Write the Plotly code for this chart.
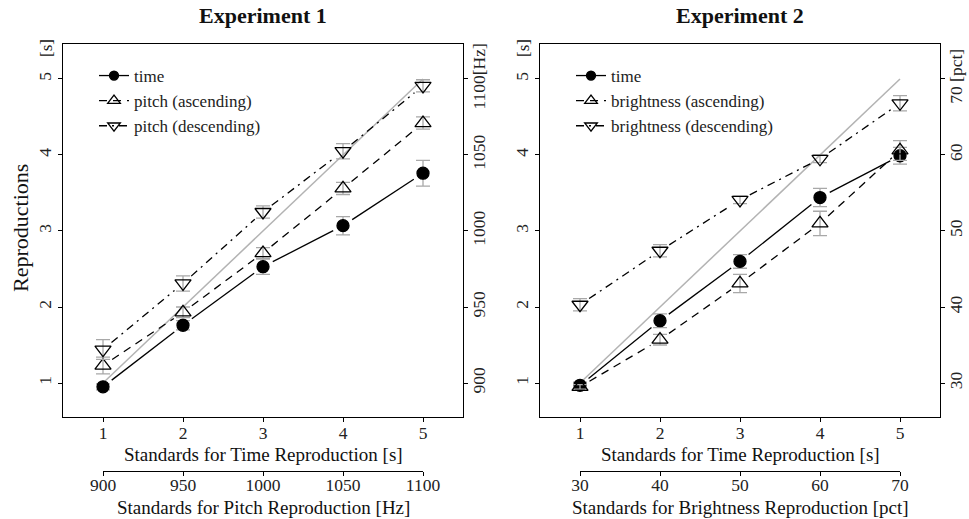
import math
import plotly.graph_objects as go

# ---------------- data ----------------
standards = [1, 2, 3, 4, 5]
identity = [1, 5]

# Experiment 1
e1_time = [0.95, 1.76, 2.53, 3.07, 3.76]
e1_time_err = [0.04, 0.06, 0.10, 0.12, 0.17]
e1_asc = [1.23, 1.93, 2.71, 3.56, 4.42]
e1_asc_err = [0.11, 0.07, 0.07, 0.08, 0.08]
e1_desc = [1.44, 2.31, 3.25, 4.05, 4.91]
e1_desc_err = [0.13, 0.10, 0.08, 0.10, 0.08]

# Experiment 2
e2_time = [0.97, 1.82, 2.60, 3.44, 3.99]
e2_time_err = [0.04, 0.09, 0.09, 0.12, 0.11]
e2_asc = [0.95, 1.57, 2.31, 3.10, 4.06]
e2_asc_err = [0.03, 0.07, 0.12, 0.16, 0.13]
e2_desc = [2.03, 2.74, 3.41, 3.95, 4.68]
e2_desc_err = [0.08, 0.08, 0.05, 0.05, 0.10]

pitch_ticks = [900, 950, 1000, 1050, 1100]
pitch_labels = ["900", "950", "1000", "1050", "1100[Hz]"]
pitch_bottom_labels = ["900", "950", "1000", "1050", "1100"]
bright_ticks = [30, 40, 50, 60, 70]
bright_labels = ["30", "40", "50", "60", "70 [pct]"]
bright_bottom_labels = ["30", "40", "50", "60", "70"]

# ---------------- layout geometry ----------------
W, H = 969, 519
FONT = "Liberation Serif"
XR = [0.5, 5.5]
YR = [0.553, 5.46]
P1 = (63, 463)
P2 = (540, 940)
TOP, BOT = 44, 417
AX2 = 471  # y pixel of the secondary bottom axes
SX = (P1[1] - P1[0]) / (XR[1] - XR[0])
SY = (BOT - TOP) / (YR[1] - YR[0])


def px(v):
    return v / W


def py(v):
    return 1 - v / H


def gapped(xs, ys, gap=11):
    X, Y = [], []
    for i in range(len(xs) - 1):
        dx = xs[i + 1] - xs[i]
        dy = ys[i + 1] - ys[i]
        L = math.hypot(dx * SX, dy * SY)
        f = gap / L
        X += [xs[i] + f * dx, xs[i + 1] - f * dx, None]
        Y += [ys[i] + f * dy, ys[i + 1] - f * dy, None]
    return X, Y


fig = go.Figure()

DASHES = {"time": "solid", "asc": "8px,6px", "desc": "8px,5px,2px,5px"}
SYMS = {"time": "circle", "asc": "triangle-up-open", "desc": "triangle-down-open"}
SIZES = {"time": 12, "asc": 14, "desc": 14}


def add_panel(xa, ya, series, names, legend):
    # identity line
    fig.add_trace(go.Scatter(x=identity, y=identity, mode="lines",
                             line=dict(color="#b3b3b3", width=1.5),
                             xaxis=xa, yaxis=ya, showlegend=False, hoverinfo="skip"))
    for key, (vals, errs) in series.items():
        gx, gy = gapped(standards, vals)
        fig.add_trace(go.Scatter(x=gx, y=gy, mode="lines",
                                 line=dict(color="black", width=1.3, dash=DASHES[key]),
                                 xaxis=xa, yaxis=ya, showlegend=False, hoverinfo="skip"))
        fig.add_trace(go.Scatter(x=standards, y=vals, mode="markers",
                                 marker=dict(symbol=SYMS[key], size=SIZES[key], color="black",
                                             line=dict(color="black", width=1.3)),
                                 error_y=dict(type="data", array=errs, color="#a8a8a8",
                                              thickness=1.3, width=7),
                                 xaxis=xa, yaxis=ya, showlegend=False))
    for key in ["time", "asc", "desc"]:
        fig.add_trace(go.Scatter(x=[None], y=[None], mode="lines+markers", name=names[key],
                                 line=dict(color="black", width=1.3, dash=DASHES[key]),
                                 marker=dict(symbol=SYMS[key], size=SIZES[key] - 3, color="black",
                                             line=dict(color="black", width=1.3)),
                                 xaxis=xa, yaxis=ya, legend=legend))


add_panel("x", "y",
          {"time": (e1_time, e1_time_err), "asc": (e1_asc, e1_asc_err), "desc": (e1_desc, e1_desc_err)},
          {"time": "time", "asc": "pitch (ascending)", "desc": "pitch (descending)"}, "legend")
add_panel("x2", "y3",
          {"time": (e2_time, e2_time_err), "asc": (e2_asc, e2_asc_err), "desc": (e2_desc, e2_desc_err)},
          {"time": "time", "asc": "brightness (ascending)", "desc": "brightness (descending)"}, "legend2")

# invisible anchors so the secondary axes are drawn
invis = dict(mode="markers", marker=dict(opacity=0, size=1), showlegend=False, hoverinfo="skip")
fig.add_trace(go.Scatter(x=standards, y=pitch_ticks, xaxis="x", yaxis="y2", **invis))
fig.add_trace(go.Scatter(x=standards, y=bright_ticks, xaxis="x2", yaxis="y4", **invis))
fig.add_trace(go.Scatter(x=pitch_ticks, y=[0, 0, 0, 0, 0], xaxis="x3", yaxis="y5", **invis))
fig.add_trace(go.Scatter(x=bright_ticks, y=[0, 0, 0, 0, 0], xaxis="x4", yaxis="y6", **invis))

tickfont = dict(family=FONT, size=17.5, color="#222")
common = dict(showgrid=False, zeroline=False, showline=True, linecolor="black", linewidth=1.3,
              ticks="outside", ticklen=4, tickwidth=1.2, tickcolor="black", tickfont=tickfont)


def map_range(r, base, step):
    return [base + step * (r[0] - 1), base + step * (r[1] - 1)]


legend_common = dict(xanchor="left", yanchor="top", bgcolor="rgba(0,0,0,0)",
                     font=dict(family=FONT, size=17, color="#222"), tracegroupgap=0,
                     itemwidth=30)

hidden_y = dict(visible=False, range=[0, 1], domain=[py(AX2), py(AX2 - 3)])

layout = dict(
    width=W, height=H, margin=dict(l=0, r=0, t=0, b=0, autoexpand=False),
    paper_bgcolor="white", plot_bgcolor="rgba(0,0,0,0)",
    font=dict(family=FONT, size=17, color="#222"),
    xaxis=dict(domain=[px(P1[0]), px(P1[1])], range=XR, anchor="y", mirror=True,
               tickvals=standards, ticklabelstandoff=-4, **common),
    yaxis=dict(domain=[py(BOT), py(TOP)], range=YR, anchor="x", mirror=True,
               tickvals=standards, tickangle=-90, **common),
    yaxis2=dict(range=map_range(YR, 900, 50), overlaying="y", side="right", anchor="x",
                tickvals=pitch_ticks, ticktext=pitch_labels, tickangle=-90,
                ticklabelstandoff=-4, **common),
    xaxis2=dict(domain=[px(P2[0]), px(P2[1])], range=XR, anchor="y3", mirror=True,
                tickvals=standards, ticklabelstandoff=-4, **common),
    yaxis3=dict(domain=[py(BOT), py(TOP)], range=YR, anchor="x2", mirror=True,
                tickvals=standards, tickangle=-90, **common),
    yaxis4=dict(range=map_range(YR, 30, 10), overlaying="y3", side="right", anchor="x2",
                tickvals=bright_ticks, ticktext=bright_labels, tickangle=-90,
                ticklabelstandoff=-4, **common),
    xaxis3=dict(domain=[px(P1[0] + SX * (1 - XR[0])), px(P1[0] + SX * (5 - XR[0]))],
                range=[900, 1100], anchor="y5", side="bottom",
                tickvals=pitch_ticks, ticktext=pitch_bottom_labels, ticklabelstandoff=-6,
                **common),
    xaxis4=dict(domain=[px(P2[0] + SX * (1 - XR[0])), px(P2[0] + SX * (5 - XR[0]))],
                range=[30, 70], anchor="y6", side="bottom",
                tickvals=bright_ticks, ticktext=bright_bottom_labels, ticklabelstandoff=-6,
                **common),
    yaxis5=dict(anchor="x3", **hidden_y),
    yaxis6=dict(anchor="x4", **hidden_y),
    legend=dict(x=px(94), y=py(58), **legend_common),
    legend2=dict(x=px(571), y=py(58), **legend_common),
)
fig.update_layout(**layout)

ann = []


def text(x, y, s, size=17, angle=0, bold=False):
    ann.append(dict(x=px(x), y=py(y), xref="paper", yref="paper", text=("<b>%s</b>" % s) if bold else s,
                    showarrow=False, textangle=angle, xanchor="center", yanchor="middle",
                    font=dict(family=FONT, size=size, color="#111")))


text(263, 15, "Experiment 1", size=22, bold=True)
text(740, 15, "Experiment 2", size=22, bold=True)
text(20, 228, "Reproductions", size=22, angle=-90)
text(47, 48, "[s]", size=17, angle=-90)
text(524, 48, "[s]", size=17, angle=-90)
text(263, 454, "Standards for Time Reproduction [s]", size=19)
text(740, 454, "Standards for Time Reproduction [s]", size=19)
text(263, 507, "Standards for Pitch Reproduction [Hz]", size=19)
text(740, 507, "Standards for Brightness Reproduction [pct]", size=19)
fig.update_layout(annotations=ann)

fig.write_html("out.html", config={"displayModeBar": False},
               post_script="document.body.style.margin='0';document.body.style.padding='0';"
                           "document.body.style.overflow='hidden';")
